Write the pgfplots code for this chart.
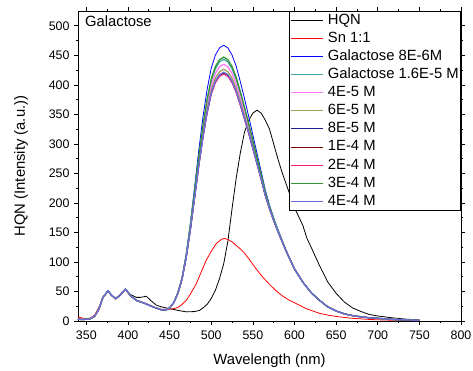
\documentclass[border=0pt]{standalone}
\usepackage{fontspec}
\setmainfont{Liberation Sans}
\usepackage{pgfplots}
\usepackage{pgfplotstable}
\pgfplotsset{compat=1.18}

\definecolor{cTeal}{RGB}{70,165,165}
\definecolor{cMag}{RGB}{255,120,255}
\definecolor{cOlive}{RGB}{160,160,90}
\definecolor{cNavy}{RGB}{30,30,140}
\definecolor{cDred}{RGB}{128,0,0}
\definecolor{cPink}{RGB}{245,30,125}
\definecolor{cGreen}{RGB}{50,150,50}
\definecolor{cPeri}{RGB}{110,110,220}

\pgfplotstableread{
x blue teal mag olive navy dred pink green peri
340 3 3 3 3 3 3 3 3 3
345 2.5 2.5 2.5 2.5 2.5 2.5 2.5 2.5 2.5
350 3 3 3 3 3 3 3 3 3
355 4 4 4 4 4 4 4 4 4
360 8 8 8 8 8 8 8 8 8
365 20 20 20 20 20 20 20 20 20
370 40 40 40 40 40 40 40 40 40
376 51 51 51 51 51 51 51 51 51
380 44 44 44 44 44 44 44 44 44
385 38 38 38 38 38 38 38 38 38
390 43 43 43 43 43 43 43 43 43
397 54 54 54 54 54 54 54 54 54
403 43 43 43 43 43 43 43 43 43
410 35 35 35 35 35 35 35 35 35
420 30 30 30 30 30 30 30 30 30
430 24 24 24 24 24 24 24 24 24
440 19 19 19 19 19 19 19 19 19
445 18.5 18.5 18.5 18.5 18.5 18.5 18.5 18.5 18.5
450 22 22 22 22 22 22 22 22 22
455 31.3 31.2 31.1 31 31 31 31 31.2 31
460 48.1 47.5 47.3 47.1 47 47 47 47.6 47
465 73.8 72.4 71.9 71.4 71 71 70.9 72.6 71.1
470 114.0 111.0 109.9 108.8 108 108 107.7 111.5 108.2
475 166.3 160.5 158.5 156.5 155 155 154.5 161.4 155.3
480 226.6 217.2 213.8 210.5 208 208 207.2 218.6 208.5
485 288.4 275.0 270.3 265.5 262 262 260.8 277.1 262.7
490 344.7 327.1 320.9 314.7 310 310 308.5 329.8 310.9
495 391.4 371.4 364.3 357.3 352 352 350.2 374.5 353.1
500 428.1 406.2 398.5 390.8 385 385 383.1 409.6 386.2
505 450.4 427.3 419.2 411.1 405 405 403.0 430.9 406.2
510 462.6 438.9 430.6 422.2 416 416 413.9 442.6 417.2
515 467.0 443.1 434.7 426.3 420 420 417.9 446.9 421.3
520 462.6 438.9 430.6 422.2 416 416 413.9 442.6 417.2
525 450.4 427.3 419.2 411.1 405 405 403.0 430.9 406.2
530 431.5 409.3 401.6 393.8 388 388 386.1 412.8 389.2
535 404.9 385.1 378.2 371.2 366 366 364.3 388.3 367.0
540 376.5 358.9 352.8 346.6 342 342 340.5 361.7 342.9
545 346.5 332.0 326.9 321.8 318 318 316.7 334.3 318.8
550 314.9 303.2 299.2 295.1 292 292 291.0 305.1 292.6
555 283.9 274.8 271.6 268.4 266 266 265.2 276.2 266.5
560 253.4 246.6 244.2 241.8 240 240 239.4 247.7 240.4
565 221.5 216.7 215.0 213.3 212 212 211.6 217.4 212.3
570 196.4 193.1 192.0 190.9 190 190 189.7 193.6 190.2
575 174.8 172.3 171.5 170.6 170 170 169.8 172.7 170.1
580 155.4 153.7 153.1 152.5 152 152 151.8 153.9 152.1
590 119.3 118.6 118.4 118.2 118 118 117.9 118.8 118.0
600 88.5 88.2 88.2 88.1 88 88 88 88.3 88
610 66 66 66 66 66 66 66 66 66
620 48 48 48 48 48 48 48 48 48
630 35 35 35 35 35 35 35 35 35
640 24 24 24 24 24 24 24 24 24
650 17 17 17 17 17 17 17 17 17
660 12 12 12 12 12 12 12 12 12
670 9 9 9 9 9 9 9 9 9
680 7 7 7 7 7 7 7 7 7
690 5.5 5.5 5.5 5.5 5.5 5.5 5.5 5.5 5.5
700 4.5 4.5 4.5 4.5 4.5 4.5 4.5 4.5 4.5
720 2.5 2.5 2.5 2.5 2.5 2.5 2.5 2.5 2.5
750 1.2 1.2 1.2 1.2 1.2 1.2 1.2 1.2 1.2
}\galtable

\begin{document}
\begin{tikzpicture}
\useasboundingbox (-78pt,-49pt) rectangle (395pt,321pt);
\begin{axis}[
  at={(0pt,0pt)}, anchor=south west,
  width=383pt, height=310pt, scale only axis,
  xmin=340, xmax=800, ymin=0, ymax=525,
  xtick={350,400,...,800}, ytick={0,50,...,500},
  minor x tick num=1, minor y tick num=1,
  tick align=outside, tick pos=both,
  major tick length=4pt, minor tick length=2.2pt,
  axis line style={line width=0.8pt},
  every tick/.style={black, line width=0.6pt},
  /pgf/number format/assume math mode=true,
  ticklabel style={font=\fontsize{12.4}{14}\selectfont},
  xticklabel style={yshift=-2pt},
  yticklabel style={xshift=-1pt},
  label style={font=\fontsize{14.8}{17}\selectfont},
  xlabel={Wavelength (nm)},
  ylabel={HQN (Intensity (a.u.))},
  xlabel style={at={(axis description cs:0.5,-0.1387)}, anchor=base},
  ylabel style={at={(axis description cs:-0.149,0.5)}, anchor=center},
  legend cell align=left,
  legend image code/.code={\draw[#1] (0pt,0pt) -- (32pt,0pt);},
  legend style={at={(axis description cs:1,1)}, anchor=north east,
    draw=black, line width=0.6pt, fill=white, inner sep=1pt,
    font=\fontsize{14.8}{17}\selectfont,
    nodes={inner sep=1pt, text height=11pt, text depth=3pt},
    row sep=2.1pt, column sep=3pt},
  every axis plot/.append style={line width=0.8pt},
]
\addplot[black] coordinates {
(340,3) (350,3) (355,4) (360,8) (365,20) (370,40) (376,51) (380,44) (385,38)
(390,43) (397,54) (403,45) (410,40) (415,40) (422,42) (428,34) (434,27) (440,24)
(450,21) (460,18) (470,15.5) (480,16) (486,18) (490,22) (495,28) (500,38)
(505,52) (510,72) (515,97) (520,135) (525,190) (530,242) (535,285) (540,320)
(545,340) (550,352) (555,357) (560,352) (565,340) (570,325) (575,300) (580,275)
(585,252) (590,232) (595,212) (600,192) (610,162) (615,140) (620,125) (630,94)
(640,66) (650,47) (660,32) (670,22) (680,16) (690,11) (700,8.5) (720,5) (735,3) (750,2)
};
\addlegendentry{HQN}
\addplot[red] coordinates {
(340,7) (345,5) (350,4) (355,5) (360,10) (366,26) (370,40) (376,50) (380,44)
(385,37) (390,42) (397,53) (403,42) (410,35) (420,30) (430,24) (440,20) (450,20)
(455,21) (460,23) (465,28) (470,35) (476,48) (482,63) (488,83) (494,103)
(500,118) (506,131) (512,138) (516,140) (520,138) (525,134) (530,128) (535,122)
(540,115) (546,104) (552,92) (558,81) (564,71) (570,62) (578,51) (586,42) (594,35)
(600,31) (614,21) (630,13) (642,9.5) (654,7) (670,4.5) (693,2.4) (720,1.2) (750,0.5)
};
\addlegendentry{Sn 1:1}
\addplot[blue] table[x=x,y=blue] {\galtable};
\addlegendentry{Galactose 8E-6M}
\addplot[cTeal, line width=1.3pt] table[x=x,y=teal] {\galtable};
\addlegendentry{Galactose 1.6E-5 M}
\addplot[cMag, line width=1.3pt] table[x=x,y=mag] {\galtable};
\addlegendentry{4E-5 M}
\addplot[cOlive, line width=1.3pt] table[x=x,y=olive] {\galtable};
\addlegendentry{6E-5 M}
\addplot[cNavy, line width=1pt] table[x=x,y=navy] {\galtable};
\addlegendentry{8E-5 M}
\addplot[cDred] table[x=x,y=dred] {\galtable};
\addlegendentry{1E-4 M}
\addplot[cPink] table[x=x,y=pink] {\galtable};
\addlegendentry{2E-4 M}
\addplot[cGreen, line width=1.3pt] table[x=x,y=green] {\galtable};
\addlegendentry{3E-4 M}
\addplot[cPeri, line width=1.3pt] table[x=x,y=peri] {\galtable};
\addlegendentry{4E-4 M}
\node[anchor=base west, font=\fontsize{14.8}{17}\selectfont, inner sep=0pt]
  at (axis description cs:0.018,0.949) {Galactose};
\end{axis}
\end{tikzpicture}
\end{document}
